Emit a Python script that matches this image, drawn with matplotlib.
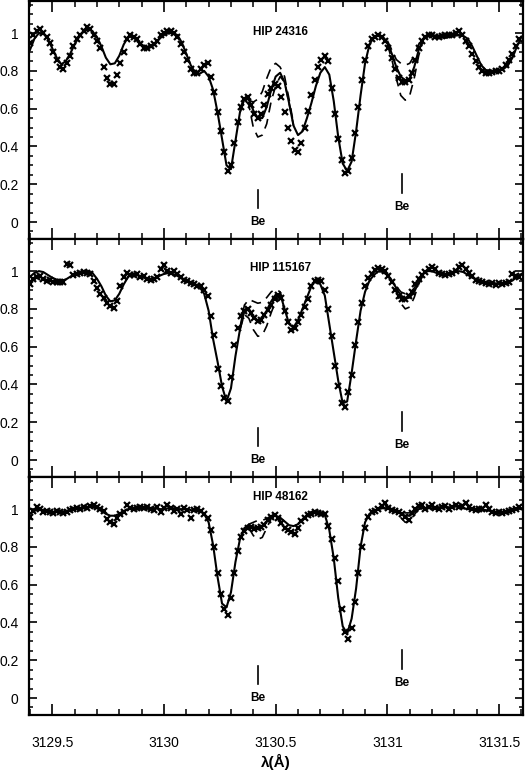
import numpy as np
import matplotlib
matplotlib.use("Agg")
import matplotlib.pyplot as plt
from matplotlib.ticker import MultipleLocator, FuncFormatter
from matplotlib import font_manager

# ---------------- data ----------------
star_names = ["HIP 24316", "HIP 115167", "HIP 48162"]
be_lines = [3130.42, 3131.065]

# model (solid) grid: 3129.40 .. 3131.60, step 0.02
model_start, model_step = 3129.40, 0.02
# observed (crosses) grid: 3129.40 .., step 0.015
obs_start, obs_step = 3129.40, 0.015

model_24316 = [
    0.91, 0.97, 1.00, 1.00, 0.97, 0.92, 0.87, 0.835, 0.85, 0.89,
    0.94, 0.98, 1.01, 1.02, 1.01, 0.98, 0.93, 0.87, 0.835, 0.84,
    0.88, 0.94, 0.98, 0.98, 0.96, 0.94, 0.925, 0.925, 0.94, 0.97,
    0.99, 1.00, 1.00, 0.99, 0.95, 0.89, 0.83, 0.79, 0.785, 0.80,
    0.77, 0.70, 0.58, 0.44, 0.30, 0.28, 0.43, 0.58, 0.65, 0.65,
    0.59, 0.55, 0.55, 0.61, 0.70, 0.77, 0.79, 0.74, 0.63, 0.51,
    0.46, 0.48, 0.55, 0.63, 0.72, 0.79, 0.82, 0.78, 0.64, 0.45,
    0.31, 0.27, 0.32, 0.48, 0.67, 0.84, 0.94, 0.98, 0.99, 0.98,
    0.95, 0.89, 0.82, 0.77, 0.75, 0.76, 0.82, 0.91, 0.97, 0.985,
    0.99, 0.985, 0.98, 0.975, 0.98, 0.985, 0.99, 0.985, 0.97, 0.93,
    0.88, 0.83, 0.805, 0.80, 0.80, 0.805, 0.81, 0.83, 0.87, 0.93,
    0.98,
]
obs_24316 = [
    0.95, 0.99, 1.01, 1.02, 1.00, 0.98, 0.95, 0.90, 0.86, 0.82,
    0.81, 0.84, 0.88, 0.93, 0.97, 0.99, 1.01, 1.03, 1.02, 0.99,
    0.96, 0.92, 0.82, 0.76, 0.73, 0.73, 0.78, 0.84, 0.90, 0.97,
    0.99, 0.98, 0.97, 0.94, 0.92, 0.92, 0.93, 0.94, 0.96, 0.99,
    1.00, 1.01, 1.01, 1.00, 0.98, 0.94, 0.90, 0.86, 0.81, 0.79,
    0.79, 0.81, 0.83, 0.84, 0.77, 0.69, 0.58, 0.48, 0.37, 0.27,
    0.30, 0.42, 0.53, 0.61, 0.65, 0.66, 0.62, 0.57, 0.55, 0.57,
    0.62, 0.68, 0.71, 0.73, 0.72, 0.66, 0.58, 0.50, 0.43, 0.38,
    0.37, 0.42, 0.50, 0.59, 0.67, 0.75, 0.82, 0.86, 0.88, 0.85,
    0.71, 0.57, 0.44, 0.33, 0.26, 0.27, 0.34, 0.47, 0.61, 0.75,
    0.86, 0.93, 0.97, 0.98, 0.99, 0.98, 0.96, 0.92, 0.87, 0.81,
    0.76, 0.74, 0.74, 0.75, 0.79, 0.86, 0.92, 0.96, 0.98, 0.99,
    0.99, 0.98, 0.98, 0.985, 0.99, 0.99, 0.99, 1.00, 1.01, 0.99,
    0.96, 0.93, 0.89, 0.85, 0.82, 0.80, 0.79, 0.79, 0.795, 0.80,
    0.80, 0.81, 0.83, 0.86, 0.89, 0.93, 0.97,
]

model_115167 = [
    0.97, 0.99, 1.00, 0.995, 0.98, 0.965, 0.955, 0.95, 0.955, 0.97,
    0.985, 0.995, 1.00, 1.00, 0.99, 0.96, 0.92, 0.87, 0.84, 0.845,
    0.88, 0.93, 0.97, 0.985, 0.98, 0.97, 0.96, 0.955, 0.96, 0.975,
    0.985, 0.99, 0.985, 0.975, 0.96, 0.95, 0.94, 0.93, 0.915, 0.88,
    0.79, 0.64, 0.52, 0.39, 0.31, 0.38, 0.55, 0.69, 0.79, 0.80,
    0.76, 0.735, 0.75, 0.79, 0.84, 0.875, 0.88, 0.80, 0.72, 0.70,
    0.74, 0.80, 0.86, 0.92, 0.955, 0.93, 0.87, 0.72, 0.57, 0.42,
    0.30, 0.31, 0.46, 0.63, 0.79, 0.89, 0.95, 0.98, 1.00, 0.995,
    0.98, 0.95, 0.91, 0.87, 0.855, 0.86, 0.89, 0.94, 0.985, 1.00,
    1.00, 0.99, 0.98, 0.98, 0.985, 0.995, 1.00, 0.995, 0.98, 0.965,
    0.955, 0.945, 0.94, 0.935, 0.935, 0.935, 0.935, 0.94, 0.95, 0.97,
    0.985,
]
obs_115167 = [
    0.93, 0.96, 0.97, 0.975, 0.96, 0.95, 0.955, 0.945, 0.94, 0.945,
    0.94, 1.04, 1.03, 0.98, 0.985, 0.99, 0.995, 0.99, 0.985, 0.95,
    0.91, 0.88, 0.86, 0.83, 0.815, 0.805, 0.84, 0.92, 0.97, 0.99,
    0.98, 0.98, 0.985, 0.97, 0.975, 0.96, 0.955, 0.96, 0.97, 1.01,
    1.03, 1.00, 0.99, 1.00, 0.985, 0.97, 0.955, 0.95, 0.935, 0.93,
    0.92, 0.92, 0.90, 0.87, 0.76, 0.66, 0.48, 0.39, 0.33, 0.31,
    0.44, 0.61, 0.70, 0.765, 0.79, 0.80, 0.78, 0.75, 0.735, 0.74,
    0.77, 0.795, 0.82, 0.85, 0.875, 0.86, 0.79, 0.73, 0.69, 0.70,
    0.73, 0.77, 0.81, 0.85, 0.92, 0.95, 0.955, 0.95, 0.90, 0.80,
    0.655, 0.50, 0.39, 0.30, 0.28, 0.36, 0.45, 0.61, 0.73, 0.83,
    0.92, 0.965, 0.985, 1.005, 1.015, 1.01, 1.00, 0.975, 0.94, 0.90,
    0.87, 0.855, 0.85, 0.87, 0.89, 0.93, 0.96, 0.98, 0.995, 1.01,
    1.02, 1.01, 0.99, 0.985, 0.98, 0.985, 0.99, 1.00, 1.02, 1.035,
    1.01, 0.99, 0.975, 0.955, 0.95, 0.945, 0.935, 0.93, 0.935, 0.925,
    0.935, 0.93, 0.935, 0.94, 0.985, 0.975, 0.97,
]

model_48162 = [
    0.975, 0.99, 1.00, 0.995, 0.99, 0.985, 0.985, 0.985, 0.99, 0.995,
    1.00, 1.00, 1.005, 1.01, 1.01, 1.005, 0.99, 0.975, 0.965, 0.965,
    0.975, 0.99, 1.00, 1.005, 1.005, 1.00, 1.00, 1.005, 1.005, 1.00,
    1.00, 1.005, 1.005, 1.00, 1.00, 1.00, 0.995, 0.99, 0.99, 0.975,
    0.93, 0.81, 0.64, 0.50, 0.48, 0.56, 0.72, 0.84, 0.90, 0.915,
    0.905, 0.90, 0.91, 0.935, 0.96, 0.965, 0.955, 0.935, 0.915, 0.91,
    0.92, 0.945, 0.97, 0.985, 0.99, 0.985, 0.97, 0.89, 0.74, 0.53,
    0.38, 0.34, 0.42, 0.58, 0.80, 0.93, 0.975, 0.99, 1.00, 1.005,
    1.005, 1.00, 0.99, 0.975, 0.965, 0.965, 0.985, 1.00, 1.005, 1.005,
    1.005, 1.01, 1.01, 1.01, 1.01, 1.015, 1.01, 1.005, 1.00, 1.00,
    0.995, 0.995, 0.995, 0.99, 0.985, 0.985, 0.985, 0.99, 0.995, 1.00,
    1.005,
]
obs_48162 = [
    0.96, 0.99, 1.01, 1.00, 0.985, 0.99, 0.985, 0.98, 0.99, 0.985,
    0.98, 0.985, 0.995, 1.00, 1.005, 1.00, 1.01, 1.005, 1.015, 1.02,
    1.01, 1.00, 0.99, 0.95, 0.93, 0.92, 0.955, 0.975, 0.985, 1.02,
    1.005, 1.00, 1.005, 1.01, 1.005, 1.01, 1.00, 0.995, 1.01, 0.985,
    1.005, 1.02, 1.005, 0.99, 1.00, 0.975, 1.005, 0.995, 0.955, 0.995,
    1.00, 0.99, 0.975, 0.955, 0.89, 0.80, 0.66, 0.55, 0.47, 0.44,
    0.53, 0.66, 0.78, 0.85, 0.885, 0.90, 0.905, 0.895, 0.90, 0.905,
    0.915, 0.94, 0.96, 0.97, 0.955, 0.925, 0.90, 0.89, 0.88, 0.87,
    0.90, 0.935, 0.955, 0.97, 0.975, 0.985, 0.98, 0.975, 0.975, 0.91,
    0.84, 0.74, 0.62, 0.47, 0.35, 0.31, 0.37, 0.51, 0.66, 0.80,
    0.90, 0.96, 0.985, 0.99, 1.00, 1.015, 1.03, 1.005, 0.995, 0.99,
    0.985, 0.975, 0.96, 0.94, 0.98, 1.00, 1.015, 1.02, 1.00, 1.01,
    1.02, 1.005, 1.00, 1.01, 1.015, 1.00, 1.01, 1.02, 1.01, 1.015,
    1.03, 1.01, 1.00, 0.995, 1.00, 1.00, 1.02, 1.00, 0.985, 0.98,
    0.985, 0.98, 0.985, 0.99, 0.995, 1.00, 1.01,
]

# alternative-abundance models (dashed), given on short windows (step 0.02)
# panel 1
d1_a_start = 3130.34
d1_a_up = [0.60, 0.66, 0.645, 0.635, 0.65, 0.69, 0.76, 0.82, 0.84, 0.82, 0.77, 0.65, 0.52]
d1_a_lo = [0.58, 0.65, 0.62, 0.50, 0.45, 0.46, 0.52, 0.64, 0.72, 0.77, 0.74, 0.63, 0.51]
d1_b_start = 3131.00
d1_b_up = [0.96, 0.91, 0.86, 0.84, 0.83, 0.84, 0.88, 0.94, 0.975]
d1_b_lo = [0.94, 0.86, 0.76, 0.67, 0.645, 0.67, 0.76, 0.88, 0.96]
# panel 2
d2_a_start = 3130.34
d2_a_up = [0.70, 0.82, 0.85, 0.84, 0.83, 0.835, 0.86, 0.89, 0.905, 0.89, 0.81]
d2_a_lo = [0.69, 0.77, 0.75, 0.69, 0.655, 0.66, 0.71, 0.78, 0.84, 0.87, 0.79]
d2_b_start = 3131.00
d2_b_up = [0.98, 0.95, 0.92, 0.89, 0.88, 0.885, 0.91, 0.95, 0.985]
d2_b_lo = [0.98, 0.94, 0.89, 0.83, 0.80, 0.81, 0.86, 0.93, 0.98]
# panel 3
d3_a_start = 3130.34
d3_a_up = [0.84, 0.90, 0.92, 0.93, 0.94, 0.94, 0.95, 0.965, 0.965]
d3_a_lo = [0.84, 0.90, 0.90, 0.86, 0.84, 0.85, 0.90, 0.95, 0.965]
d3_b_start = 3131.00
d3_b_up = [1.005, 1.00, 0.995, 0.985, 0.98, 0.98, 0.99, 1.00]
d3_b_lo = [1.005, 1.00, 0.985, 0.955, 0.93, 0.935, 0.97, 1.00]

panels = [
    (model_24316, obs_24316, [(d1_a_start, d1_a_up, d1_a_lo), (d1_b_start, d1_b_up, d1_b_lo)]),
    (model_115167, obs_115167, [(d2_a_start, d2_a_up, d2_a_lo), (d2_b_start, d2_b_up, d2_b_lo)]),
    (model_48162, obs_48162, [(d3_a_start, d3_a_up, d3_a_lo), (d3_b_start, d3_b_up, d3_b_lo)]),
]
label_y = [1.005, 1.017, 1.063]

# ---------------- fonts ----------------
avail = {f.name for f in font_manager.fontManager.ttflist}
base_font = "Liberation Sans" if "Liberation Sans" in avail else "DejaVu Sans"
narrow_font = "Liberation Sans Narrow" if "Liberation Sans Narrow" in avail else base_font
plt.rcParams["font.family"] = [base_font, "DejaVu Sans"]

# ---------------- figure ----------------
fig = plt.figure(figsize=(5.30, 7.75), dpi=100)
left, right = 29 / 530, 523 / 530
top, bottom = 1 - 1 / 775, 60 / 775
h = (top - bottom) / 3
axes = [fig.add_axes([left, top - (i + 1) * h, right - left, h]) for i in range(3)]

for i, (ax, (model, obs, dashes)) in enumerate(zip(axes, panels)):
    xm = model_start + model_step * np.arange(len(model))
    xo = obs_start + obs_step * np.arange(len(obs))
    ax.plot(xo, obs, ls="none", marker="x", ms=4.8, mew=1.6, color="black")
    ax.plot(xm, model, color="black", lw=1.5)
    for (s, up, lo) in dashes:
        xu = s + model_step * np.arange(len(up))
        xl = s + model_step * np.arange(len(lo))
        ax.plot(xu, up, color="black", lw=1.2, dashes=(6, 4))
        ax.plot(xl, lo, color="black", lw=1.2, dashes=(6, 4))

    # Be markers
    ax.plot([be_lines[0]] * 2, [0.075, 0.17], color="black", lw=1.2)
    ax.text(be_lines[0], 0.0, "Be", ha="center", va="center", fontsize=8.5,
            fontweight="bold", family=[narrow_font, "DejaVu Sans"])
    ax.plot([be_lines[1]] * 2, [0.155, 0.255], color="black", lw=1.2)
    ax.text(be_lines[1], 0.08, "Be", ha="center", va="center", fontsize=8.5,
            fontweight="bold", family=[narrow_font, "DejaVu Sans"])

    ax.text(3130.52, label_y[i], star_names[i], ha="center", va="center",
            fontsize=8.5, fontweight="bold", family=[narrow_font, "DejaVu Sans"])

    ax.set_xlim(3129.396, 3131.607)
    ax.set_ylim(-0.09, 1.17)
    ax.xaxis.set_major_locator(MultipleLocator(0.5))
    ax.xaxis.set_minor_locator(MultipleLocator(0.1))
    ax.yaxis.set_major_locator(MultipleLocator(0.2))
    ax.yaxis.set_minor_locator(MultipleLocator(0.05))
    ax.yaxis.set_major_formatter(FuncFormatter(lambda v, p: f"{v:g}" if abs(v) > 1e-9 else "0"))
    ax.xaxis.set_major_formatter(FuncFormatter(lambda v, p: f"{v:g}"))
    ax.tick_params(axis="x", which="major", direction="in", length=8, width=1.2,
                   top=True, bottom=True, labelsize=10, pad=15)
    ax.tick_params(axis="x", which="minor", direction="in", length=4.5, width=1.1,
                   top=True, bottom=True)
    ax.tick_params(axis="y", which="major", direction="in", length=5.5, width=1.2,
                   left=True, right=True, labelsize=10, pad=7.5)
    ax.tick_params(axis="y", which="minor", direction="in", length=3, width=1.1,
                   left=True, right=True)
    for sp in ax.spines.values():
        sp.set_linewidth(1.6)
    if i < 2:
        ax.tick_params(axis="x", labelbottom=False)

axes[-1].set_xlabel("λ(Å)", fontsize=11, fontweight="bold", labelpad=3)

fig.savefig("out.png", dpi=100)
